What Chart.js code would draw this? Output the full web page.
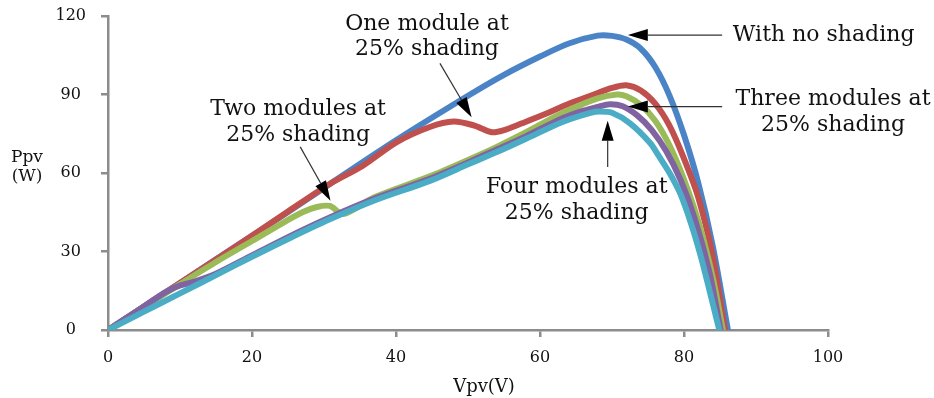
<!DOCTYPE html>
<html>
<head>
<meta charset="utf-8">
<script src="https://cdn.jsdelivr.net/npm/chart.js@4"></script>
<style>
  body { margin: 0; background: #fff; }
  #wrap { width: 934px; height: 398px; }
</style>
</head>
<body>
<div id="wrap"><canvas id="pv-chart"></canvas></div>
<script>
// voltage (V) and power (W) per curve
const noShadeV = [0, 10, 20, 30, 40, 50, 55, 60, 64, 68, 70, 72, 74, 76, 78, 80, 82, 84, 86.1]
const noShadeP = [0, 18, 36, 54.3, 72.5, 89.5, 97.5, 104.5, 109.5, 112.5, 112.4, 111, 107.5, 100.5, 89.5, 74.5, 56, 32, 0]

const oneModV = [0, 10, 20, 25, 30.8, 35.4, 40.1, 44.7, 48, 50.8, 53.3, 54.9, 57.5, 60.9, 64, 67, 70, 72, 74, 76, 78, 80, 82, 84, 85.7]
const oneModP = [0, 18, 36, 45.3, 55.8, 62.8, 71.8, 77.6, 79.7, 78.2, 75.6, 76.3, 79, 82.7, 86.5, 89.5, 92.5, 93.5, 91.5, 86.5, 78, 65.5, 50.5, 28, 0]

const twoModV = [0, 5, 10, 15, 20, 24, 27, 29, 30.8, 32.7, 37, 44.7, 50, 54, 58, 63.2, 68, 70.7, 72, 74, 76, 78, 80, 82, 84, 85.4]
const twoModP = [0, 8.8, 17.5, 26, 34, 40.5, 45, 47, 47.4, 44.3, 50.7, 58.7, 65, 70, 75.5, 83, 88.5, 90, 89.3, 86, 80, 70.5, 57.5, 41.5, 20, 0]

const threeModV = [0, 4, 8, 10, 12, 15, 20, 25, 30.8, 37, 44.7, 50, 54, 58, 63.2, 66, 68, 69.7, 71.5, 73.5, 75.5, 77.5, 79.5, 81.5, 83.5, 85.1]
const threeModP = [0, 7.2, 14.5, 17, 18.5, 21.5, 28.5, 35.5, 43, 50.2, 57.8, 64, 69, 74, 81, 83.8, 85.3, 86.3, 85.5, 82, 76.5, 68.5, 57.5, 42.5, 22.5, 0]

const fourModV = [0, 5, 10, 15, 19.7, 25, 30.8, 37, 44.7, 50, 54, 58, 63.2, 67, 68.3, 70, 72.5, 75.3, 76.5, 78, 79.5, 81, 82.3, 83.6, 84.9]
const fourModP = [0, 7, 14, 21, 27.6, 34.8, 42.3, 49.5, 57, 63.3, 68, 73, 79.6, 83, 83.5, 83, 79, 71.5, 66.5, 60, 52, 40.5, 28.5, 14.5, 0]

const xTicks = [0, 20, 40, 60, 80, 100]
const yTicks = [0, 30, 60, 90, 120]

const serif = '"DejaVu Serif", "Liberation Serif", serif'

const pairs = (vs, ps) => vs.map((v, i) => ({ x: v, y: ps[i] }))

const series = [
  { data: pairs(noShadeV, noShadeP), color: "#4a84c6", order: 5 },
  { data: pairs(oneModV, oneModP), color: "#c0504d", order: 4 },
  { data: pairs(twoModV, twoModP), color: "#9bbb59", order: 3 },
  { data: pairs(threeModV, threeModP), color: "#8064a2", order: 2 },
  { data: pairs(fourModV, fourModP), color: "#4bacc6", order: 1 },
]

// callouts, placed in data units
const notes = [
  { lines: ["With no shading"], x: 99.4, y: [110.4] },
  { lines: ["One module at", "25% shading"], x: 44.3, y: [114.6, 105] },
  { lines: ["Two modules at", "25% shading"], x: 26.4, y: [82.1, 72.3] },
  { lines: ["Three modules at", "25% shading"], x: 100.7, y: [86, 76.2] },
  { lines: ["Four modules at", "25% shading"], x: 65.1, y: [52.5, 42.5] },
]
const arrows = [
  { from: [85.3, 112.7], to: [72.2, 112.7] },
  { from: [46.1, 101.9], to: [50.5, 81.3] },
  { from: [26.7, 70], to: [30.9, 49.4] },
  { from: [85.3, 85.4], to: [72.2, 85.4] },
  { from: [69.4, 62.3], to: [69.4, 80] },
]

const notesPlugin = {
  id: "notes",
  afterDatasetsDraw(chart) {
    const { ctx, chartArea } = chart
    const x = chart.scales.x
    const y = chart.scales.y
    ctx.save()

    arrows.forEach((a) => {
      const x0 = x.getPixelForValue(a.from[0])
      const y0 = y.getPixelForValue(a.from[1])
      const x1 = x.getPixelForValue(a.to[0])
      const y1 = y.getPixelForValue(a.to[1])
      const ang = Math.atan2(y1 - y0, x1 - x0)
      const len = 20
      const half = 6
      ctx.strokeStyle = "#333"
      ctx.lineWidth = 1.2
      ctx.beginPath()
      ctx.moveTo(x0, y0)
      ctx.lineTo(x1 - Math.cos(ang) * len, y1 - Math.sin(ang) * len)
      ctx.stroke()
      ctx.fillStyle = "#000"
      ctx.beginPath()
      ctx.moveTo(x1, y1)
      ctx.lineTo(x1 - Math.cos(ang) * len - Math.sin(ang) * half, y1 - Math.sin(ang) * len + Math.cos(ang) * half)
      ctx.lineTo(x1 - Math.cos(ang) * len + Math.sin(ang) * half, y1 - Math.sin(ang) * len - Math.cos(ang) * half)
      ctx.closePath()
      ctx.fill()
    })

    ctx.fillStyle = "#111"
    ctx.textAlign = "center"
    ctx.textBaseline = "alphabetic"
    ctx.font = "22px " + serif
    notes.forEach((n) => {
      n.lines.forEach((t, i) => {
        ctx.fillText(t, x.getPixelForValue(n.x), y.getPixelForValue(n.y[i]))
      })
    })

    // axis titles
    ctx.font = "17px " + serif
    ctx.fillText("Ppv", chartArea.left - 81, 162)
    ctx.fillText("(W)", chartArea.left - 81, 181)
    ctx.font = "18px " + serif
    ctx.fillText("Vpv(V)", chartArea.left + 376, 392)
    ctx.restore()
  },
}

const axisGrey = "#8c8c8c"

new Chart(document.getElementById("pv-chart"), {
  type: "line",
  data: {
    datasets: series.map((s) => ({
      data: s.data,
      borderColor: s.color,
      backgroundColor: s.color,
      borderWidth: 6,
      pointRadius: 0,
      fill: false,
      tension: 0.3,
      borderJoinStyle: "round",
      borderCapStyle: "round",
      order: s.order,
    })),
  },
  options: {
    responsive: true,
    maintainAspectRatio: false,
    animation: false,
    layout: { padding: { top: 16, right: 106, left: 0, bottom: 0 } },
    plugins: { legend: { display: false }, tooltip: { enabled: false } },
    scales: {
      x: {
        type: "linear",
        min: 0,
        max: 100,
        afterBuildTicks: (s) => { s.ticks = xTicks.map((v) => ({ value: v })) },
        afterFit: (s) => { s.height = 68 },
        grid: { drawOnChartArea: false, color: axisGrey, lineWidth: 2.5, tickLength: 7 },
        border: { color: axisGrey, width: 2.5 },
        ticks: { color: "#111", padding: 11, font: { family: serif, size: 16 } },
      },
      y: {
        type: "linear",
        min: 0,
        max: 120,
        afterBuildTicks: (s) => { s.ticks = yTicks.map((v) => ({ value: v })) },
        afterFit: (s) => {
          s.width = 108
          s.paddingTop = 0
          s.paddingBottom = 0
        },
        grid: { drawOnChartArea: false, color: axisGrey, lineWidth: 2.5, tickLength: 7 },
        border: { color: axisGrey, width: 2.5 },
        ticks: { color: "#111", padding: 15, crossAlign: "center", font: { family: serif, size: 16 } },
      },
    },
  },
  plugins: [notesPlugin],
})
</script>
</body>
</html>
